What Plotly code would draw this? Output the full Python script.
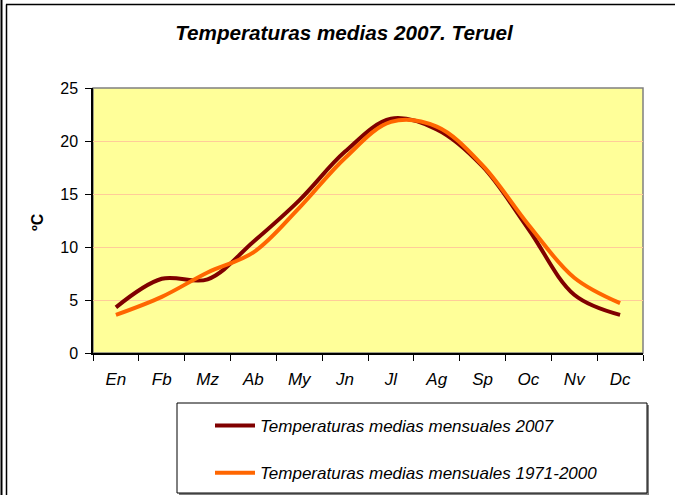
import plotly.graph_objects as go

months = ["En", "Fb", "Mz", "Ab", "My", "Jn", "Jl", "Ag", "Sp", "Oc", "Nv", "Dc"]
t2007 = [4.3, 7.0, 6.95, 10.5, 14.4, 19.0, 22.1, 21.1, 17.6, 11.7, 5.5, 3.6]
t7100 = [3.6, 5.3, 7.6, 9.5, 13.7, 18.4, 21.8, 21.35, 17.7, 12.1, 7.1, 4.7]
name2007 = "Temperaturas medias mensuales 2007"
name7100 = "Temperaturas medias mensuales 1971-2000"
title = "Temperaturas medias 2007. Teruel"
ytitle = "ºC"

W, H = 675, 495
L, R, T, B = 93, 32, 88, 142
PW, PH = W - L - R, H - T - B


def px(x):
    return (x - L) / PW


def py(y):
    return (H - B - y) / PH


fig = go.Figure()
fig.add_trace(go.Scatter(x=months, y=t2007, name=name2007, mode="lines",
                         line=dict(color="#800000", width=4, shape="spline", smoothing=1),
                         legendgroup="a"))
fig.add_trace(go.Scatter(x=months, y=t7100, name=name7100, mode="lines",
                         line=dict(color="#FF6600", width=4, shape="spline", smoothing=1),
                         legendgroup="b"))

font = "Liberation Sans, Arial, sans-serif"
shapes = [
    # plot frame (gray top/right)
    dict(type="rect", xref="paper", yref="paper", x0=0, y0=0, x1=1, y1=1,
         line=dict(color="#808080", width=1.5), layer="below"),
    # outer chart border (double left, single top)
    dict(type="line", xref="paper", yref="paper", x0=px(1.5), x1=px(1.5), y0=py(0), y1=py(H),
         line=dict(color="#000000", width=2)),
    dict(type="line", xref="paper", yref="paper", x0=px(6.5), x1=px(6.5), y0=py(4.5), y1=py(H),
         line=dict(color="#000000", width=1.5)),
    dict(type="line", xref="paper", yref="paper", x0=px(6), x1=px(W), y0=py(4.5), y1=py(4.5),
         line=dict(color="#000000", width=1.5)),
    # legend box shadow + box
    dict(type="rect", xref="paper", yref="paper", x0=px(179), x1=px(649), y0=py(405), y1=py(495),
         line=dict(width=0), fillcolor="#808080", layer="above"),
    dict(type="rect", xref="paper", yref="paper", x0=px(177), x1=px(647), y0=py(403), y1=py(493),
         line=dict(color="#000000", width=1), fillcolor="#FFFFFF", layer="above"),
]

fig.update_layout(
    width=W, height=H,
    margin=dict(l=L, r=R, t=T, b=B, autoexpand=False),
    paper_bgcolor="#FFFFFF",
    plot_bgcolor="#FFFF99",
    font=dict(family=font, color="#000000"),
    title=dict(text=title, x=344 / W, xanchor="center", y=1 - 33 / H, yanchor="middle",
               font=dict(family=font, size=20.7, color="#000000", style="italic", weight="bold")),
    showlegend=True,
    legend=dict(x=px(210), xanchor="left", y=py(408), yanchor="top",
                bgcolor="rgba(0,0,0,0)", borderwidth=0, itemwidth=40,
                tracegroupgap=22, traceorder="grouped",
                font=dict(family=font, size=17, color="#000000", style="italic")),
    shapes=shapes,
    annotations=[dict(text=ytitle, xref="paper", yref="paper", x=px(37), y=py(222),
                      xanchor="center", yanchor="middle", showarrow=False, textangle=-90,
                      font=dict(family=font, size=16, color="#000000", weight="bold"))],
)

fig.update_xaxes(
    type="category", showgrid=False, showline=True, linecolor="#000000", linewidth=1.5,
    ticks="outside", ticklen=6, tickcolor="#000000", tickson="boundaries",
    ticklabelstandoff=10,
    tickfont=dict(family=font, size=17, color="#000000", style="italic"),
    range=[-0.5, 11.5], zeroline=False, fixedrange=True,
)
fig.update_yaxes(
    range=[0, 25], dtick=5, showgrid=True, gridcolor="#FFCC99", gridwidth=1,
    showline=True, linecolor="#000000", linewidth=1.5, ticks="outside", ticklen=6,
    tickcolor="#000000", zeroline=False, ticklabelstandoff=4,
    tickfont=dict(family=font, size=16, color="#000000"), fixedrange=True,
)

fig.write_html("out.html", config={"displayModeBar": False},
               post_script="document.body.style.margin='0';document.body.style.overflow='hidden';")
